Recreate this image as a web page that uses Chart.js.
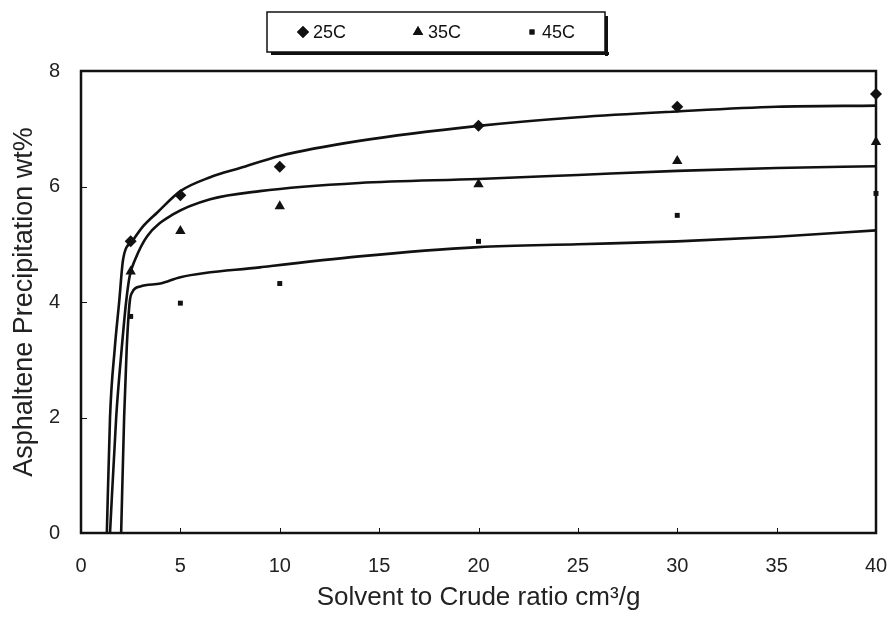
<!DOCTYPE html>
<html>
<head>
<meta charset="utf-8">
<script src="https://cdn.jsdelivr.net/npm/chart.js@4.4.0/dist/chart.umd.min.js"></script>
<style>
  html, body { margin: 0; padding: 0; background: #fff; }
  #wrap { width: 890px; height: 617px; }
</style>
</head>
<body>
<div id="wrap"><canvas id="precipChart"></canvas></div>
<script>
// measured points
var ratios = [2.5, 5, 10, 20, 30, 40];
var wt25 = [5.05, 5.85, 6.34, 7.05, 7.38, 7.6];
var wt35 = [4.53, 5.23, 5.66, 6.04, 6.44, 6.77];
var wt45 = [3.75, 3.98, 4.32, 5.05, 5.5, 5.88];

// model curves
var fit25X = [1.3, 1.46, 1.7, 1.92, 2.12, 2.58, 3.1, 3.84, 5, 6.5, 8, 10, 14, 20, 25, 30, 35, 40];
var fit25Y = [0, 2, 3.2, 4, 4.74, 5.05, 5.3, 5.55, 5.92, 6.16, 6.32, 6.53, 6.79, 7.05, 7.2, 7.3, 7.38, 7.4];
var fit35X = [1.46, 1.77, 2.05, 2.27, 2.45, 2.73, 3.33, 4.65, 6.5, 9, 14, 20, 25, 30, 35, 40];
var fit35Y = [0, 2, 3.2, 4, 4.45, 4.74, 5.14, 5.52, 5.78, 5.92, 6.06, 6.13, 6.2, 6.27, 6.32, 6.35];
var fit45X = [2.02, 2.17, 2.3, 2.45, 2.58, 2.98, 4, 5, 9, 14, 20, 25, 30, 35, 40];
var fit45Y = [0, 2, 3.2, 4, 4.17, 4.27, 4.32, 4.43, 4.6, 4.79, 4.95, 5.0, 5.05, 5.13, 5.24];

var xTicks = [0, 5, 10, 15, 20, 25, 30, 35, 40];
var yTicks = [0, 2, 4, 6, 8];

function pts(xs, ys) {
    return xs.map(function(x, i) { return { x: x, y: ys[i] }; });
}

var ink = '#111';

function markerSet(label, ys, style, r) {
    return {
        label: label,
        data: pts(ratios, ys),
        showLine: false,
        pointStyle: style,
        pointRadius: r,
        pointHoverRadius: r,
        backgroundColor: ink,
        borderColor: ink,
        borderWidth: 0,
        clip: false,
        isMarker: true
    };
}

function curveSet(xs, ys) {
    return {
        label: '',
        data: pts(xs, ys),
        showLine: true,
        pointRadius: 0,
        borderColor: ink,
        borderWidth: 2.6,
        cubicInterpolationMode: 'monotone',
        fill: false
    };
}

// frame + inward ticks
var framePlugin = {
    id: 'frame',
    afterDraw: function(chart) {
        var c = chart.ctx, a = chart.chartArea;
        var xs = chart.scales.x, ys = chart.scales.y;
        c.save();
        c.strokeStyle = ink;
        c.lineWidth = 2.5;
        c.strokeRect(a.left, a.top, a.right - a.left, a.bottom - a.top);
        c.lineWidth = 1;
        c.beginPath();
        xTicks.forEach(function(v) {
            var px = Math.round(xs.getPixelForValue(v)) + 0.5;
            c.moveTo(px, a.bottom); c.lineTo(px, a.bottom - 5);
        });
        yTicks.forEach(function(v) {
            var py = Math.round(ys.getPixelForValue(v)) + 0.5;
            c.moveTo(a.left, py); c.lineTo(a.left + 6, py);
        });
        c.stroke();
        c.restore();
    }
};

// boxed legend with drop shadow
var legendPlugin = {
    id: 'boxLegend',
    afterDraw: function(chart) {
        var c = chart.ctx;
        var bx = 267, by = 12, bw = 338, bh = 40;
        c.save();
        c.fillStyle = ink;
        c.fillRect(bx + 4, by + bh, bw, 3);
        c.fillRect(bx + bw, by + 4, 3, bh);
        c.strokeStyle = ink;
        c.lineWidth = 1.5;
        c.strokeRect(bx, by, bw, bh);
        var xs = [303, 418, 532];
        var markers = chart.data.datasets.filter(function(d) { return d.isMarker; });
        c.font = '18px "Liberation Sans", Arial, sans-serif';
        c.textBaseline = 'middle';
        markers.forEach(function(d, i) {
            Chart.helpers.drawPoint(c, {
                pointStyle: d.pointStyle,
                radius: d.pointRadius,
                rotation: 0,
                borderWidth: 0
            }, xs[i], 32);
            c.fillStyle = ink;
            c.fill();
            c.fillText(d.label, xs[i] + 10, 33);
        });
        c.restore();
    }
};

var tickFont = { family: '"Liberation Sans", Arial, sans-serif', size: 20 };

new Chart(document.getElementById('precipChart').getContext('2d'), {
    type: 'scatter',
    data: {
        datasets: [
            markerSet('25C', wt25, 'rectRot', 6),
            markerSet('35C', wt35, 'triangle', 6),
            markerSet('45C', wt45, 'rect', 3.5),
            curveSet(fit25X, fit25Y),
            curveSet(fit35X, fit35Y),
            curveSet(fit45X, fit45Y)
        ]
    },
    options: {
        responsive: true,
        maintainAspectRatio: false,
        animation: false,
        layout: { padding: { top: 71, right: 14, left: 0, bottom: 0 } },
        plugins: {
            legend: { display: false },
            tooltip: { enabled: false }
        },
        scales: {
            x: {
                type: 'linear',
                min: 0,
                max: 40,
                afterBuildTicks: function(s) { s.ticks = xTicks.map(function(v) { return { value: v }; }); },
                afterFit: function(s) {
                    s.height = 84;
                    s.paddingLeft = 0;
                    s.paddingRight = 0;
                },
                ticks: { color: '#222', font: tickFont, padding: 13, maxRotation: 0 },
                grid: { display: false },
                border: { display: false },
                title: {
                    display: true, text: 'Solvent to Crude ratio cm\u00b3/g', color: '#222',
                    font: { family: '"Liberation Sans", Arial, sans-serif', size: 26 }, padding: { top: 0 }
                }
            },
            y: {
                type: 'linear',
                min: 0,
                max: 8,
                afterBuildTicks: function(s) { s.ticks = yTicks.map(function(v) { return { value: v }; }); },
                afterFit: function(s) {
                    s.width = 81;
                    s.paddingTop = 0;
                    s.paddingBottom = 0;
                },
                ticks: { color: '#222', font: tickFont, padding: 13 },
                grid: { display: false },
                border: { display: false },
                title: {
                    display: true, text: 'Asphaltene Precipitation wt%', color: '#222',
                    font: { family: '"Liberation Sans", Arial, sans-serif', size: 27 }, padding: { top: 8, bottom: 0 }
                }
            }
        }
    },
    plugins: [framePlugin, legendPlugin]
});
</script>
</body>
</html>
